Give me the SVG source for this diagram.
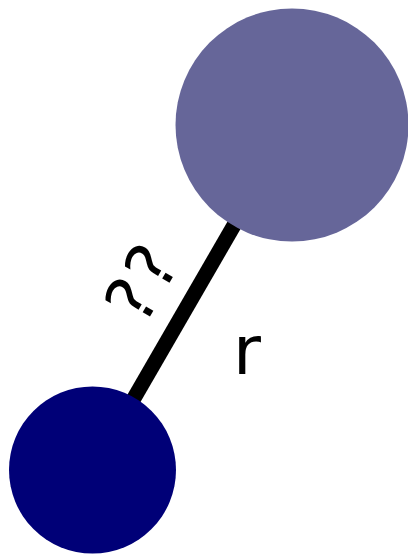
<svg xmlns="http://www.w3.org/2000/svg" width="408" height="554" viewBox="0 0 408 554">
<style>
.lbl{font-family:"DejaVu Sans",sans-serif;fill:#000}
</style>
<rect width="408" height="554" fill="#fff"/>
<g id="connectors">
<line x1="292" y1="125" x2="92.5" y2="470" stroke="#000" stroke-width="15"/>
<text class="lbl" font-size="68" letter-spacing="3" text-anchor="middle" transform="translate(163,294) rotate(-60)">??</text>
<text class="lbl" font-size="68" x="233" y="374">r</text>
</g>
<g id="node-big"><circle cx="292" cy="125" r="116.5" fill="#666699"/></g>
<g id="node-small"><circle cx="92.5" cy="470" r="83.5" fill="#000077"/></g>
</svg>
